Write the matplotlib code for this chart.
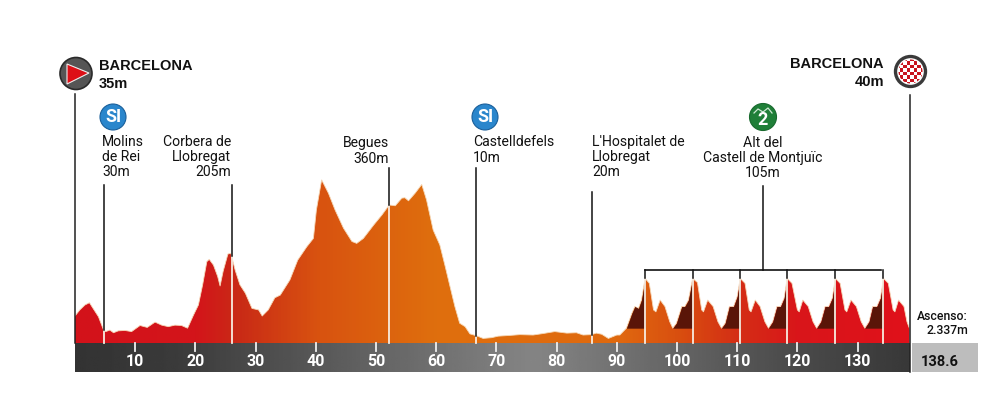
import matplotlib
matplotlib.use('Agg')
import matplotlib.pyplot as plt
import numpy as np
from matplotlib.colors import LinearSegmentedColormap
from matplotlib.patches import Circle, Polygon, Rectangle

# profile: km, metres
km = [0, 0.8, 1.65, 2.4, 3.0, 3.9, 4.7, 5.1, 5.8, 6.4, 7.2, 8.3, 9.4, 10.8, 12, 13.3, 14.4, 15.5, 16.6, 17.7,
      18.7, 19.7, 20.5, 21.2, 21.9, 22.3, 23, 23.7, 24.1, 24.6, 25.4, 25.9, 26.6, 27.4, 28.3, 29.4, 30.5, 31.1,
      32.1, 33.2, 34.1, 35.7, 37, 38.5, 39.6, 40.1, 40.97, 42.1, 43.2, 44.6, 46, 46.8, 47.9, 49.6, 51, 52.2,
      53.2, 54.3, 54.8, 55.4, 56.5, 57.6, 58.4, 59.5, 60.6, 61.5, 62.3, 63.1, 63.9, 64.8, 65.6, 66.7, 67.8,
      69.2, 70.3, 72.3, 73.9, 76.1, 77.8, 79.7, 81.7, 83.3, 84.4, 85.8, 86.6, 87.5, 88.6, 90, 90.5, 91.6,
      92.5, 93, 93.6, 94.1, 94.7, 95.4, 96.1, 96.5, 97.2, 98, 98.8, 99.3, 99.9, 100.8, 101.3, 101.9, 102.6,
      103.4, 104.1, 104.4, 105.1, 106, 106.8, 107.4, 108, 108.7, 109.4, 110, 110.5, 111.3, 112, 112.3, 113,
      113.8, 114.6, 115.2, 115.9, 116.6, 117.2, 117.8, 118.3, 119.1, 120, 120.3, 120.9, 121.8, 122.6, 123.2,
      123.9, 124.6, 125.2, 125.8, 126.3, 127.1, 127.9, 128.2, 128.9, 129.8, 130.6, 131.2, 131.9, 132.5, 133.2,
      133.8, 134.3, 135.1, 135.9, 136.2, 136.8, 137.7, 138.2, 138.6]
elev = [71, 87, 100, 106, 91, 69, 36, 30, 34, 27, 32, 33, 30, 46, 41, 55, 47, 43, 47, 46,
        39, 74, 100, 153, 214, 220, 205, 175, 150, 188, 234, 236, 192, 153, 131, 91, 87, 71,
        87, 119, 126, 166, 218, 253, 275, 350, 429, 394, 350, 302, 267, 262, 275, 310, 337, 363,
        361, 381, 382, 374, 394, 417, 376, 297, 258, 201, 148, 96, 52, 43, 24, 19, 12,
        14, 18, 20, 22, 21, 25, 30, 26, 27, 21, 22, 26, 23, 12, 21, 21, 39,
        78, 96, 91, 113, 170, 157, 87, 82, 113, 96, 56, 39, 52, 96, 96, 113, 170,
        159, 87, 82, 113, 96, 56, 39, 52, 96, 96, 122, 170, 157, 87, 82, 113,
        96, 56, 39, 56, 96, 96, 118, 170, 157, 87, 82, 113, 96, 56, 39,
        56, 96, 96, 118, 170, 157, 87, 82, 113, 96, 56, 39, 56, 96, 96,
        118, 170, 157, 87, 82, 113, 96, 56, 39]

km_ticks = [10, 20, 30, 40, 50, 60, 70, 80, 90, 100, 110, 120, 130]
total_km = 138.6

climb_start = [91.6, 99.3, 107.4, 115.2, 123.2, 131.2]
climb_top = [94.7, 102.6, 110.5, 118.3, 126.3, 134.3]
climb_base = 39

# km of the marker, pixel top of its black line
mark_km = [4.8, 26.0, 52.2, 66.6, 85.8]
mark_top = [185, 185, 168, 168, 192]

grad_km = [0, 20, 27, 40, 60, 90, 100, 110, 120, 138.6]
grad_col = ['#d3121a', '#d3151a', '#c92a16', '#d85210', '#df6f0d', '#e0690f', '#d9500f', '#d42f15', '#d9161a', '#e0111a']


def main():
    fig = plt.figure(figsize=(10.06, 4.18), dpi=100, facecolor='white')

    # data axes, covers the whole figure
    ax = fig.add_axes([0, 0, 1, 1])
    ax.axis('off')
    xlim = (-75 / 6.02, (1006 - 75) / 6.02)
    ylim = ((343 - 418) * 2.63, 343 * 2.63)

    # pixel axes on top for labels and icons
    px = fig.add_axes([0, 0, 1, 1], zorder=5)
    px.axis('off')
    px.patch.set_alpha(0)
    px.set_xlim(0, 1006)
    px.set_ylim(418, 0)

    x = np.array(km)
    y = np.array(elev)

    # coloured profile
    stops = [k / total_km for k in grad_km]
    cmap = LinearSegmentedColormap.from_list('profile', list(zip(stops, grad_col)))
    im = ax.imshow(np.linspace(0, 1, 600).reshape(1, -1), cmap=cmap, aspect='auto',
                   extent=(0, total_km, 0, 450), zorder=1)
    poly = Polygon(np.column_stack([[0] + km + [total_km], [0] + elev + [0]]), closed=True,
                   transform=ax.transData, facecolor='none', edgecolor='none')
    ax.add_patch(poly)
    im.set_clip_path(poly)
    ax.plot(x, y, color='#f6d9b8', lw=0.6, zorder=2)

    # dark ramps up to Montjuic
    for a, b in zip(climb_start, climb_top):
        m = (x >= a) & (x <= b)
        ax.fill_between(x[m], climb_base, y[m], color='#5a1508', lw=0, zorder=3)

    # km bar
    bar = np.interp(np.linspace(0, 1, 400), [0, 0.12, 0.55, 0.85, 1], [0.2, 0.23, 0.52, 0.3, 0.22])
    ax.imshow(bar.reshape(1, -1), cmap='gray', vmin=0, vmax=1, aspect='auto',
              extent=(0, total_km + 0.1, -29 * 2.63, 0), zorder=1)
    for t in km_ticks:
        ax.plot([t, t], [0, -8 * 2.63], color='#eeeeee', lw=1.3, zorder=4)
        ax.text(t, -18.5 * 2.63, str(t), color='white', fontsize=11.5, fontweight='bold', family='Roboto',
                ha='center', va='center', zorder=4)

    # marker lines: black above the road, white below
    for k, top in zip(mark_km + climb_top, mark_top + [270] * 6):
        h = np.interp(k, x, y)
        ax.plot([k, k], [0, h], color='#f8ece0', lw=1.3, zorder=4)
        ax.plot([k, k], [h, (343 - top) * 2.63], color='#111111', lw=1.1, zorder=4)
    ax.plot([0, 0], [0, (343 - 94) * 2.63], color='#222222', lw=1.1, zorder=4)
    ax.plot([138.7, 138.7], [-29 * 2.63, (343 - 95) * 2.63], color='#222222', lw=1.1, zorder=4)

    ax.set_xlim(xlim)
    ax.set_ylim(ylim)

    # Montjuic bracket
    px.plot([645, 881], [270, 270], color='#111111', lw=1.2)
    px.plot([763, 763], [186, 270], color='#111111', lw=1.1)

    # grey total box
    px.add_patch(Rectangle((912, 343), 66, 29, facecolor='#bdbdbd', edgecolor='none'))
    px.text(940, 362, '138.6', fontsize=10.5, fontweight='bold', family='Roboto', color='#111111',
            ha='center', va='center')
    px.text(968, 317, 'Ascenso:', fontsize=8.8, family='Roboto', fontweight='medium', color='#111111',
            ha='right', va='center')
    px.text(968, 331, '2.337m', fontsize=8.8, family='Roboto', fontweight='medium', color='#111111',
            ha='right', va='center')

    # titles
    px.text(99, 66, 'BARCELONA', fontsize=10.5, fontweight='bold', family='Liberation Sans', color='#111111',
            va='center')
    px.text(99, 84, '35m', fontsize=10.5, fontweight='bold', family='Liberation Sans', color='#111111',
            va='center')
    px.text(884, 64, 'BARCELONA', fontsize=10.5, fontweight='bold', family='Liberation Sans', color='#111111',
            ha='right', va='center')
    px.text(884, 82, '40m', fontsize=10.5, fontweight='bold', family='Liberation Sans', color='#111111',
            ha='right', va='center')

    # place labels
    lab = dict(fontsize=10.1, family='Roboto', color='#111111', linespacing=1.1)
    px.text(102, 157, 'Molins\nde Rei\n30m', ha='left', va='center', **lab)
    px.text(231, 157, 'Corbera de\nLlobregat\n205m', ha='right', va='center', multialignment='right', **lab)
    px.text(389, 151, 'Begues\n360m', ha='right', va='center', multialignment='right', **lab)
    px.text(473, 150, 'Castelldefels\n10m', ha='left', va='center', **lab)
    px.text(592, 157, "L'Hospitalet de\nLlobregat\n20m", ha='left', va='center', **lab)
    px.text(763, 158, 'Alt del\nCastell de Montjuïc\n105m', ha='center', va='center', multialignment='center', **lab)

    # SI / climb icons
    for cx in [113, 485]:
        px.add_patch(Circle((cx, 117), 13, facecolor='#2a86cc', edgecolor='#1a5f9a', lw=0.8))
        px.text(cx, 117.5, 'SI', fontsize=13, fontweight='bold', family='Roboto', color='white',
                ha='center', va='center')
    px.add_patch(Circle((763, 117), 13.5, facecolor='#1f7f38', edgecolor='#186a2e', lw=0.8))
    px.plot([754, 758, 763, 768, 772], [113, 109, 112, 108, 113], color='#cfe8d4', lw=0.9)
    px.text(763, 120, '2', fontsize=13, fontweight='bold', family='Roboto', color='white',
            ha='center', va='center')

    # start icon
    px.add_patch(Circle((76, 73.5), 16, facecolor='#555555', edgecolor='#2a2a2a', lw=1.2))
    px.add_patch(Polygon([[67, 64], [89, 73], [67, 84]], closed=True, facecolor='#dd0f16', edgecolor='#eeeeee', lw=0.8))

    # finish icon with checker
    px.add_patch(Circle((910.5, 71.5), 15, facecolor='white', edgecolor='#3a3a3a', lw=2.4))
    clip = Circle((910.5, 71.5), 12, transform=px.transData)
    for i in range(-4, 4):
        for j in range(-4, 4):
            if (i + j) % 2 == 0:
                r = Rectangle((910.5 + i * 3.5, 71.5 + j * 3.5), 3.5, 3.5, facecolor='#c8141e', edgecolor='none')
                px.add_patch(r)
                r.set_clip_path(clip)

    fig.savefig('out.png', dpi=100, facecolor='white')


if __name__ == '__main__':
    main()
